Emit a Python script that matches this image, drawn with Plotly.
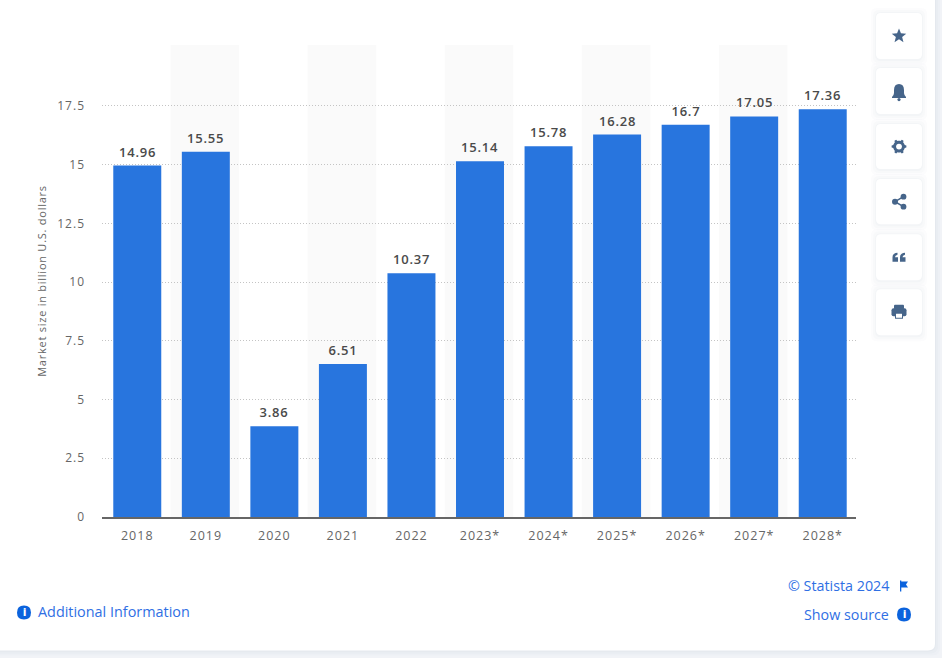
import math
import plotly.graph_objects as go

years = ["2018","2019","2020","2021","2022","2023*","2024*","2025*","2026*","2027*","2028*"]
market_size = [14.96,15.55,3.86,6.51,10.37,15.14,15.78,16.28,16.7,17.05,17.36]
value_labels = ["14.96","15.55","3.86","6.51","10.37","15.14","15.78","16.28","16.7","17.05","17.36"]
y_max = 20.09
y_ticks = [0,2.5,5,7.5,10,12.5,15,17.5,y_max]
y_tick_labels = ["0","2.5","5","7.5","10","12.5","15","17.5",""]

W, H = 942, 658
L, R, T, B = 102, 856, 45, 516.6
FONT = "Open Sans"
BLUE = "#2875de"
ICON = "#46658a"
LINK = "#2f6fe4"
INFO = "#0b63dd"
X_NUDGE = 0.0146

def fx(x):
    return (x-L)/(R-L)
def fy(y):
    return (B-y)/(B-T)
def P(x, y):
    return f"{fx(x):.5f} {fy(y):.5f}"

def poly(pts, close=True):
    s = "M" + " L".join(P(x, y) for x, y in pts)
    return s + (" Z" if close else "")

def rrect(x0, y0, x1, y1, r):
    return (f"M{P(x0+r,y0)} L{P(x1-r,y0)} Q{P(x1,y0)} {P(x1,y0+r)} L{P(x1,y1-r)} Q{P(x1,y1)} {P(x1-r,y1)} "
            f"L{P(x0+r,y1)} Q{P(x0,y1)} {P(x0,y1-r)} L{P(x0,y0+r)} Q{P(x0,y0)} {P(x0+r,y0)} Z")

def circle(cx, cy, r):
    return rrect(cx-r, cy-r, cx+r, cy+r, r)

def sh(path, fill, layer="above", opacity=1):
    return dict(type="path", xref="paper", yref="paper", path=path, fillcolor=fill,
                line=dict(width=0), layer=layer, opacity=opacity)

shapes = []
# card and shadow
for i, a in [(5, .05), (3, .07), (1, .10)]:
    shapes.append(sh(rrect(-20, -20, 935+i, 650+i, 8), "#b8c2d2", "below", a))
shapes.append(sh(rrect(-20, -20, 935, 650, 7), "#ffffff", "below"))

# alternating bands
for i in range(1, len(years), 2):
    shapes.append(dict(type="rect", xref="x", yref="y", x0=i-0.5-X_NUDGE, x1=i+0.5-X_NUDGE, y0=0, y1=y_max,
                       fillcolor="#fafafa", line=dict(width=0), layer="below"))

# toolbar buttons
buttons = [(13,59),(68,114),(124,169),(179,224),(234,280),(289,335)]
for y0, y1 in buttons:
    for i, a in [(5, .03), (3, .04), (1, .05)]:
        shapes.append(sh(rrect(876-i, y0-i, 922+i, y1+i+1, 6), "#9aa8bd", "above", a))
    shapes.append(sh(rrect(876, y0, 922, y1, 5), "#ffffff"))

cx = 899
# star
cy = 36
pts = []
for k in range(10):
    r = 7.6 if k % 2 == 0 else 3.3
    t = -math.pi/2 + k*math.pi/5
    pts.append((cx+r*math.cos(t), cy+r*math.sin(t)))
shapes.append(sh(poly(pts), ICON))
# bell
shapes.append(sh(f"M{P(cx,84)} Q{P(cx+5,84)} {P(cx+5,90)} L{P(cx+5,93)} Q{P(cx+5,95)} {P(cx+7,97)} "
                 f"L{P(cx+7,98)} L{P(cx-7,98)} L{P(cx-7,97)} Q{P(cx-5,95)} {P(cx-5,93)} L{P(cx-5,90)} Q{P(cx-5,84)} {P(cx,84)} Z", ICON))
shapes.append(sh(circle(cx, 99.5, 1.6), ICON))
# gear
cy = 146.5
pts = []
for k in range(48):
    t = k*2*math.pi/48
    r = 7.4 if (k+1) % 8 < 3 else 5.9
    pts.append((cx+r*math.cos(t), cy+r*math.sin(t)))
shapes.append(sh(poly(pts), ICON))
shapes.append(sh(circle(cx, cy, 2.9), "#ffffff"))
# share
shapes.append(dict(type="path", xref="paper", yref="paper",
                   path=f"M{P(cx+4.5,196.5)} L{P(cx-4,201.5)} L{P(cx+4.5,206.5)}",
                   line=dict(color=ICON, width=1.6), layer="above"))
for x, y, r in [(cx+4.5,196.5,2.9),(cx-4,201.5,3),(cx+4.5,206.5,2.9)]:
    shapes.append(sh(circle(x, y, r), ICON))
# quotes
for dx in (-6.5, 1):
    shapes.append(sh(f"M{P(cx+dx,257)} Q{P(cx+dx,253)} {P(cx+dx+5,252.5)} L{P(cx+dx+5,254.5)} Q{P(cx+dx+2.5,255)} {P(cx+dx+2.5,257)} "
                     f"L{P(cx+dx+5.5,257)} L{P(cx+dx+5.5,261.5)} L{P(cx+dx,261.5)} Z", ICON))
# printer
shapes.append(sh(rrect(cx-7.5, 308, cx+7.5, 316, 2), ICON))
shapes.append(sh(rrect(cx-5, 304.5, cx+5, 309, 1), ICON))
shapes.append(sh(rrect(cx-4, 312.5, cx+4, 318.5, 0.5), ICON))
shapes.append(sh(rrect(cx-3, 313.5, cx+3, 317.5, 0.3), "#ffffff"))

# link icons
shapes.append(sh(circle(24, 612, 7), INFO))
shapes.append(sh(circle(904, 614, 7), INFO))
shapes.append(sh(poly([(900,580),(901.3,580),(901.3,581),(908,581),(906,584),(908,587),(901.3,587),(901.3,591),(900,591)]), INFO))

annotations = []
# value labels, positioned through the axes
for i, (v, lab) in enumerate(zip(market_size, value_labels)):
    annotations.append(dict(xref="x", yref="y", x=i, y=v, text=lab, showarrow=False,
                            xanchor="center", yanchor="bottom", yshift=3,
                            font=dict(family=FONT, size=13, color="#4a4a4a", weight=600)))

def px_text(x, y, text, anchor, size, color, weight=None):
    annotations.append(dict(xref="paper", yref="paper", x=fx(x), y=fy(y), text=text, showarrow=False,
                            xanchor=anchor, yanchor="middle",
                            font=dict(family=FONT, size=size, color=color, weight=weight)))

px_text(36, 611.2, "Additional Information", "left", 14.4, LINK)
px_text(891, 585.2, "© Statista 2024", "right", 14.3, LINK)
px_text(891, 614.2, "Show source", "right", 14.3, LINK)
px_text(24, 612, "i", "center", 10, "#ffffff", weight=800)
px_text(904, 614, "i", "center", 10, "#ffffff", weight=800)

fig = go.Figure(go.Bar(
    x=years, y=market_size, cliponaxis=False,
    marker=dict(color=BLUE, line=dict(width=0)), width=0.7, hoverinfo="skip",
))
fig.update_layout(
    width=W, height=H, autosize=False, showlegend=False,
    margin=dict(l=L, r=W-R, t=T, b=H-B),
    paper_bgcolor="#f1f3f7", plot_bgcolor="rgba(0,0,0,0)",
    font=dict(family=FONT, color="#666666"),
    shapes=shapes, annotations=annotations,
    xaxis=dict(type="category", range=[-0.5-X_NUDGE, len(years)-0.5-X_NUDGE], showgrid=False, ticks="",
               showline=True, linecolor="#666666", linewidth=2,
               tickfont=dict(family=FONT, size=12.5, color="#666666"), ticklabelstandoff=6),
    yaxis=dict(range=[0, y_max], tickmode="array", tickvals=y_ticks, ticktext=y_tick_labels,
               showgrid=True, gridcolor="#c4c4c4", griddash="1px,2px", gridwidth=1, zeroline=False,
               ticks="", tickfont=dict(family=FONT, size=12, color="#666666"), ticklabelstandoff=16,
               title=dict(text="Market size in billion U.S. dollars", standoff=12,
                          font=dict(family=FONT, size=11, color="#666666"))),
)
css = ".xtick text,.ytick text{letter-spacing:1px}.ytitle{letter-spacing:.75px}"
css += "".join(f".annotation[data-index='{i}'] text{{letter-spacing:.8px}}" for i in range(len(years)))
post = ("document.body.style.margin='0';document.documentElement.style.overflow='hidden';"
        "var s=document.createElement('style');s.textContent=" + repr(css) + ";document.head.appendChild(s);")
fig.write_html("out.html", post_script=post, config={"displayModeBar": False})
